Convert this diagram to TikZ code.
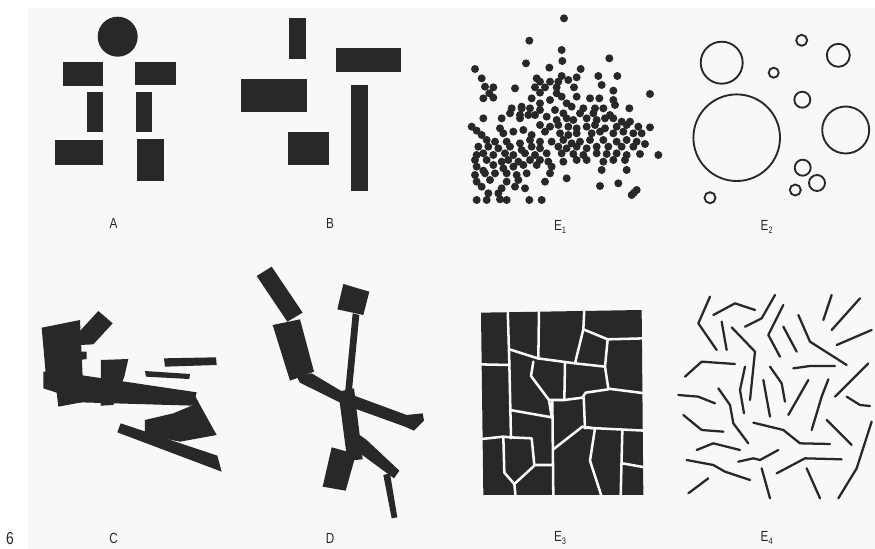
\documentclass[tikz,border=0pt]{standalone}
\usepackage{fontspec}
\newfontfamily\lab[FakeStretch=0.8]{Liberation Sans}
\definecolor{ink}{RGB}{40,40,40}
\definecolor{paper}{RGB}{248,248,248}
\tikzset{
  blk/.style={fill=ink},
  crack/.style={draw=paper,line width=1.9pt,line cap=round,line join=round},
  stroke/.style={draw=ink,line width=1.7pt,line cap=round,line join=round},
  ring/.style={draw=ink,line width=1.4pt},
  lbl/.style={font=\lab\fontsize{11}{13}\selectfont,text=ink,inner sep=0pt}
}
\newcommand{\subdig}[1]{\raisebox{-0.45ex}{\fontsize{7}{7}\selectfont #1}}
\begin{document}
\begin{tikzpicture}[x=0.75pt,y=-0.75pt]
\useasboundingbox (0,0) rectangle (875,549);
\fill[white] (0,0) rectangle (875,549);
\fill[paper] (28,8) rectangle (875,549);

% ---------- A ----------
\fill[blk] (117.7,36.7) circle[radius=20];
\fill[blk] (63.3,61.7) rectangle (103.3,86);
\fill[blk] (135,61.7) rectangle (175.7,85.3);
\fill[blk] (87.3,91.7) rectangle (103.3,132.3);
\fill[blk] (136,91.7) rectangle (152.3,132.3);
\fill[blk] (55,140) rectangle (103.3,165);
\fill[blk] (137.3,139.3) rectangle (164,180.7);
\node[lbl] (la) at (113.5,223) {A};

% ---------- B ----------
\fill[blk] (289.3,17.7) rectangle (306,59);
\fill[blk] (336,47.7) rectangle (401,71.7);
\fill[blk] (240.7,79) rectangle (306.7,112.3);
\fill[blk] (351,85) rectangle (367.7,190.7);
\fill[blk] (287.7,132.3) rectangle (328.7,165.3);
\node[lbl] (lb) at (330,223) {B};

% ---------- E1 ----------
\begin{scope}[shift={(440,0)},scale=0.33333]
\foreach \p in {(372,55),(268,122),(365,150),(508,175),(367,183),(258,190),
(105,207),(328,203),(422,207),
(125,235),(365,228),(475,228),(532,228),(290,235),(410,232),
(300,245),(330,245),(385,240),(355,245),(485,255),
(135,260),(160,262),(225,265),(285,262),(315,262),(350,262),(402,262),(520,272),
(630,282),(148,280),(300,278),(350,280),(365,290),(450,295),(478,295),(410,290),
(130,295),(160,293),(275,295),(330,300),(520,300),
(300,310),(380,310),(525,315),(245,320),
(215,325),(245,325),(270,325),(300,330),(345,330),(395,320),(430,325),(465,325),(490,325),(568,325),
(210,340),(240,345),(265,345),(285,345),(320,350),(370,340),(420,340),(460,340),(510,345),
(130,355),(185,355),(240,355),(350,360),(380,355),(400,360),(440,355),(470,360),(495,355),(520,355),(545,365),(570,365),
(95,380),(110,392),(180,385),(250,390),(300,375),(330,380),(355,375),(385,380),(410,385),(440,380),(465,375),(495,385),(530,380),(560,375),(595,380),(630,382),
(125,405),(190,400),(220,395),(275,405),(315,395),(360,400),(385,405),(410,400),(455,400),(480,395),(520,400),(550,395),(580,400),(605,400),
(140,420),(165,425),(200,425),(240,430),(270,420),(300,425),(335,425),(370,420),(395,430),(420,425),(450,420),(490,420),(530,425),(560,420),(590,425),(615,432),
(115,440),(145,440),(175,445),(210,440),(245,450),(275,440),(300,445),(355,440),(380,445),(410,440),(440,445),(470,440),(505,440),(545,440),(580,440),
(110,465),(130,460),(160,465),(195,460),(220,465),(255,460),(285,465),(320,460),(365,460),(400,462),(430,465),(470,460),(500,462),(530,460),(560,465),(600,462),(655,465),
(105,480),(140,480),(185,485),(205,480),(235,485),(270,480),(300,480),(325,485),(370,485),(410,480),(440,480),(490,485),(520,480),(555,480),
(110,500),(160,495),(190,505),(220,500),(250,495),(290,495),(335,500),(485,510),(560,510),(130,512),
(105,525),(135,520),(165,520),(200,520),(230,525),(260,520),(330,520),
(110,545),(150,540),(200,545),(235,540),(315,545),(380,535),(535,550),(480,558),
(125,560),(185,565),(225,560),(255,565),
(145,580),(175,580),(582,578),(590,570),
(110,600),(140,600),(180,598),(200,600),(268,600),(305,600),(575,585)}
  \fill[blk] \p circle[radius=12];
\end{scope}
\node[lbl] (le1) at (560,227) {E\subdig{1}};

% ---------- E2 ----------
\draw[ring] (721.7,62.7) circle[radius=21];
\draw[ring] (736.7,137.7) circle[radius=43.3];
\draw[ring] (773.7,72.7) circle[radius=5];
\draw[ring] (801.7,40.3) circle[radius=5.5];
\draw[ring] (838.3,55.3) circle[radius=11.5];
\draw[ring] (802.3,99.7) circle[radius=8];
\draw[ring] (845.7,130) circle[radius=23.5];
\draw[ring] (802.7,167.7) circle[radius=8];
\draw[ring] (817,183) circle[radius=8];
\draw[ring] (795.3,190) circle[radius=5.5];
\draw[ring] (710,197.7) circle[radius=5.5];
\node[lbl] (le2) at (766.7,227) {E\subdig{2}};

% ---------- C ----------
\begin{scope}[shift={(30,305)},scale=0.33333]
\fill[blk] (35,68) -- (150,45) -- (158,215) -- (48,215) -- cycle;
\fill[blk] (150,140) -- (170,140) -- (170,162) -- (150,165) -- cycle;
\fill[blk] (40,200) -- (150,190) -- (155,292) -- (85,305) -- (80,263) -- (40,250) -- cycle;
\fill[blk] (148,80) -- (205,18) -- (248,55) -- (190,118) -- (150,120) -- cycle;
\fill[blk] (150,210) -- (500,262) -- (490,302) -- (150,292) -- cycle;
\fill[blk] (213,165) -- (295,162) -- (283,215) -- (250,300) -- (212,302) -- cycle;
\fill[blk] (402,160) -- (558,157) -- (560,180) -- (405,185) -- cycle;
\fill[blk] (345,198) -- (480,207) -- (478,222) -- (348,215) -- cycle;
\fill[blk] (490,262) -- (510,300) -- (560,390) -- (450,410) -- (345,390) -- (345,345) -- (430,325) -- (490,300) -- cycle;
\fill[blk] (272,355) -- (562,452) -- (575,500) -- (262,382) -- cycle;
\end{scope}
\node[lbl] (lc) at (113.5,538) {C};

% ---------- D ----------
\begin{scope}[shift={(250,260)},scale=0.33333]
\fill[blk] (20,48) -- (65,20) -- (158,158) -- (112,185) -- cycle;
\fill[blk] (68,195) -- (150,178) -- (192,335) -- (120,362) -- cycle;
\fill[blk] (140,350) -- (185,340) -- (272,392) -- (470,465) -- (518,460) -- (522,482) -- (492,512) -- (465,500) -- (285,435) -- (150,368) -- cycle;
\fill[blk] (280,72) -- (358,95) -- (340,165) -- (262,148) -- cycle;
\fill[blk] (308,160) -- (328,165) -- (305,400) -- (285,400) -- cycle;
\fill[blk] (265,395) -- (312,385) -- (338,598) -- (292,602) -- cycle;
\fill[blk] (245,562) -- (318,582) -- (287,692) -- (218,680) -- cycle;
\fill[blk] (322,520) -- (350,540) -- (448,632) -- (432,655) -- (330,580) -- cycle;
\fill[blk] (400,645) -- (420,640) -- (442,772) -- (425,775) -- cycle;
\end{scope}
\node[lbl] (ld) at (330,538) {D};

% ---------- E3 ----------
\begin{scope}[shift={(475,300)},scale=0.33333]
\fill[blk] (18,38) -- (500,30) -- (505,585) -- (25,585) -- cycle;
\draw[crack] (98,25) -- (103,190);
\draw[crack] (10,193) -- (103,195);
\draw[crack] (103,148) -- (188,175) -- (300,190) -- (390,200);
\draw[crack] (192,25) -- (190,176);
\draw[crack] (328,25) -- (325,88) -- (300,190);
\draw[crack] (325,88) -- (398,118) -- (510,115);
\draw[crack] (398,118) -- (390,200) -- (400,266) -- (510,280);
\draw[crack] (270,190) -- (268,300);
\draw[crack] (222,300) -- (268,300) -- (322,293) -- (332,278) -- (400,268);
\draw[crack] (326,292) -- (330,385);
\draw[crack] (328,383) -- (510,392);
\draw[crack] (175,185) -- (168,228) -- (222,300) -- (230,350);
\draw[crack] (105,330) -- (230,352);
\draw[crack] (232,305) -- (235,590);
\draw[crack] (235,448) -- (322,380) -- (358,385);
\draw[crack] (360,385) -- (345,482) -- (380,590);
\draw[crack] (442,392) -- (437,590);
\draw[crack] (442,490) -- (510,502);
\draw[crack] (105,412) -- (170,415) -- (178,495) -- (232,495);
\draw[crack] (10,418) -- (85,410) -- (105,412);
\draw[crack] (103,190) -- (108,415);
\draw[crack] (85,412) -- (88,518) -- (118,552) -- (122,592);
\draw[crack] (118,552) -- (178,497);
\end{scope}
\node[lbl] (le3) at (560,538) {E\subdig{3}};

% ---------- E4 ----------
\begin{scope}[shift={(440,240)},scale=0.33333]
\draw[stroke] (810,170)--(775,250)--(830,330);
\draw[stroke] (820,225)--(885,190)--(945,210);
\draw[stroke] (1005,165)--(965,235)--(915,260);
\draw[stroke] (845,245)--(860,330);
\draw[stroke] (875,262)--(945,335)--(930,480);
\draw[stroke] (1030,195)--(985,285)--(1020,350);
\draw[stroke] (1030,260)--(1070,335);
\draw[stroke] (1075,225)--(1110,305)--(1220,375);
\draw[stroke] (1175,165)--(1150,240);
\draw[stroke] (1260,175)--(1175,270);
\draw[stroke] (1295,270)--(1190,315);
\draw[stroke] (735,410)--(785,365)--(885,372);
\draw[stroke] (915,380)--(900,450)--(912,520);
\draw[stroke] (990,380)--(1025,430)--(1035,485);
\draw[stroke] (970,420)--(990,530);
\draw[stroke] (1060,385)--(1110,378)--(1185,378);
\draw[stroke] (1105,420)--(1045,525);
\draw[stroke] (1165,418)--(1145,470)--(1115,570);
\draw[stroke] (1285,370)--(1185,470);
\draw[stroke] (1220,470)--(1260,495)--(1290,498);
\draw[stroke] (715,465)--(775,470)--(825,490);
\draw[stroke] (835,445)--(870,495)--(880,550)--(925,610);
\draw[stroke] (730,525)--(785,570)--(850,575);
\draw[stroke] (770,630)--(820,610)--(900,630);
\draw[stroke] (740,660)--(820,675)--(855,695)--(930,720);
\draw[stroke] (745,760)--(805,715);
\draw[stroke] (895,665)--(940,655)--(960,660)--(1015,630);
\draw[stroke] (965,685)--(990,775);
\draw[stroke] (940,548)--(1030,570)--(1080,610)--(1170,612);
\draw[stroke] (1010,700)--(1095,655)--(1205,658);
\draw[stroke] (1100,685)--(1140,775);
\draw[stroke] (1295,545)--(1250,685)--(1195,775);
\draw[stroke] (1160,540)--(1235,615);
\end{scope}
\node[lbl] (le4) at (766.7,538) {E\subdig{4}};

\node[font=\lab\fontsize{13}{14}\selectfont,text=ink,inner sep=0pt] (pg) at (10,539) {6};
\end{tikzpicture}
\end{document}
